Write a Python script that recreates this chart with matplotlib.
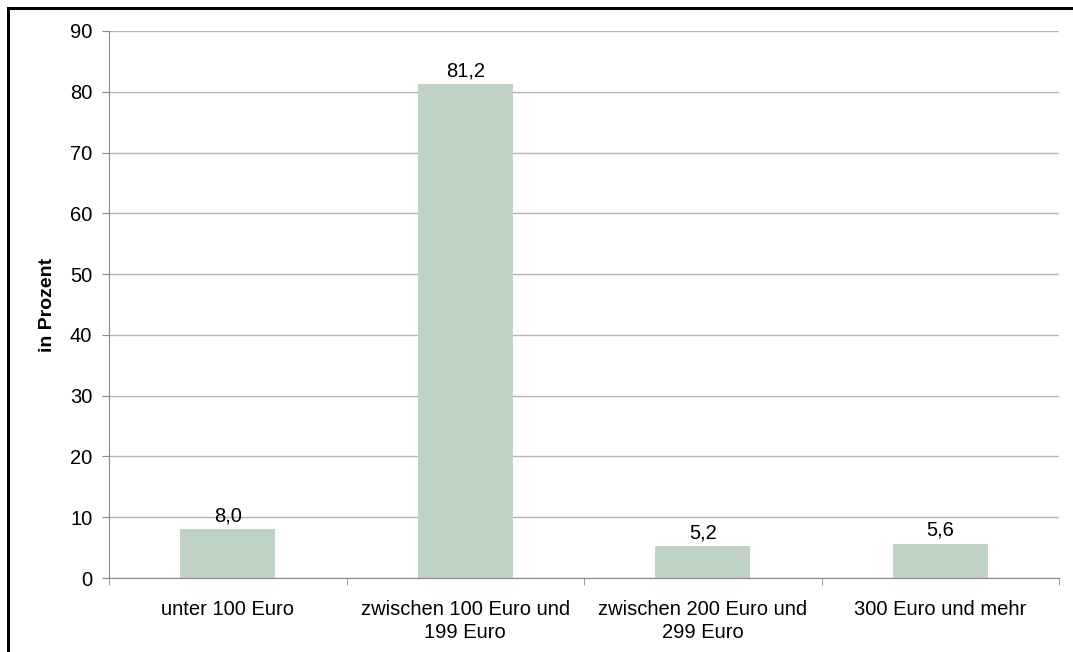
import matplotlib.pyplot as plt
from matplotlib.patches import Rectangle

plt.rcParams['font.family'] = ['Liberation Sans', 'DejaVu Sans']

categories = ["unter 100 Euro", "zwischen 100 Euro und\n199 Euro",
              "zwischen 200 Euro und\n299 Euro", "300 Euro und mehr"]
values = [8.0, 81.2, 5.2, 5.6]
yticks = [0, 10, 20, 30, 40, 50, 60, 70, 80, 90]

fig = plt.figure(figsize=(10.73, 6.52), dpi=100)
ax = fig.add_axes([109 / 1073, 1 - 578 / 652, 950 / 1073, 547 / 652])

x = range(len(categories))
ax.bar(x, values, width=0.4, color="#bfd2c4", zorder=2)
for xi, v in zip(x, values):
    ax.annotate(f"{v:.1f}".replace(".", ","), xy=(xi, v), xytext=(0, 3),
                textcoords="offset points", ha="center", va="bottom", fontsize=14.5)

ax.set_xlim(-0.5, len(categories) - 0.5)
ax.set_ylim(0, 90)
ax.set_yticks(yticks)
ax.yaxis.grid(True, color="#b3b3b3", linewidth=1, zorder=0)
ax.set_axisbelow(True)
ax.set_xticks(x)
ax.set_xticklabels(categories, fontsize=14.5, linespacing=1.25)
ax.tick_params(axis="x", length=0, pad=16)
ax.set_xticks([i + 0.5 for i in range(-1, len(categories))], minor=True)
ax.tick_params(axis="x", which="minor", length=5, color="#888888")
ax.tick_params(axis="y", length=5, color="#888888", labelsize=14.5, pad=7)
for s in ["top", "right"]:
    ax.spines[s].set_visible(False)
for s in ["left", "bottom"]:
    ax.spines[s].set_color("#888888")
ax.set_ylabel("in Prozent", fontsize=14, fontweight="bold", labelpad=10)

fig.patches.append(Rectangle((8 / 1073, -0.1), 1.2, (652 - 8) / 652 + 0.1,
                             transform=fig.transFigure, fill=False,
                             edgecolor="black", linewidth=2.2))

fig.savefig("out.png", dpi=100)
